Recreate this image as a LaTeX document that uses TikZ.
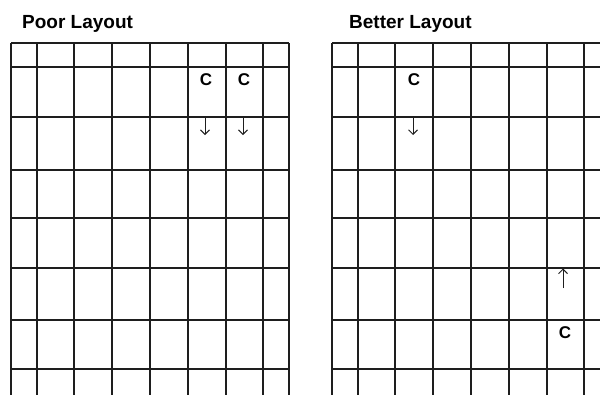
\documentclass[tikz,border=0pt]{standalone}
\usepackage{fontspec}
\newfontfamily\labelfont{Liberation Sans}
\usetikzlibrary{arrows.meta}
\definecolor{gridink}{RGB}{30,30,30}
\tikzset{
  gridline/.style={line width=1.4pt, gridink},
  paneltitle/.style={font=\labelfont\bfseries\fontsize{19}{21}\selectfont, anchor=base west, inner sep=0pt},
  cellmark/.style={font=\labelfont\bfseries\fontsize{17}{19}\selectfont, inner sep=0pt},
  move/.style={-{Straight Barb[length=4.5pt,width=9pt]}, line width=1pt, gridink}
}
\newcommand{\LayoutGrid}[1]{%
  % #1 x-shift of the whole grid
  \begin{scope}[shift={(#1,0)}]
    % columns
    \foreach \x in {11,37,74,112,150,188,226,263,289}
      \draw[gridline] (\x,43) -- (\x,400);
    % rows
    \foreach \y in {43,67,117,170,218,268,320,369}
      \draw[gridline] (11,\y) -- (289,\y);
  \end{scope}
}

\begin{document}
\begin{tikzpicture}[x=1pt, y=-1pt]
  \useasboundingbox (0,0) rectangle (600,394);
  \clip (0,0) rectangle (600,394);

  % a) poor layout
  \node[paneltitle] (poortitle) at (22,28.5) {Poor Layout};
  \LayoutGrid{0}
  \node[cellmark] (poorc1) at (206,80) {C};
  \node[cellmark] (poorc2) at (244,80) {C};
  \coordinate (poora1) at (205,117);
  \coordinate (poorb1) at (205,135);
  \coordinate (poora2) at (243,117);
  \coordinate (poorb2) at (243,135);
  \draw[move] (poora1) -- (poorb1);
  \draw[move] (poora2) -- (poorb2);

  % b) better layout
  \node[paneltitle] (bettertitle) at (349,28.5) {Better Layout};
  \LayoutGrid{321}
  \node[cellmark] (betterc1) at (414,80) {C};
  \node[cellmark] (betterc2) at (565,333) {C};
  \coordinate (bettera1) at (413,117);
  \coordinate (betterb1) at (413,135);
  \coordinate (bettera2) at (563,288);
  \coordinate (betterb2) at (563,268.5);
  \draw[move] (bettera1) -- (betterb1);
  \draw[move] (bettera2) -- (betterb2);
\end{tikzpicture}
\end{document}
